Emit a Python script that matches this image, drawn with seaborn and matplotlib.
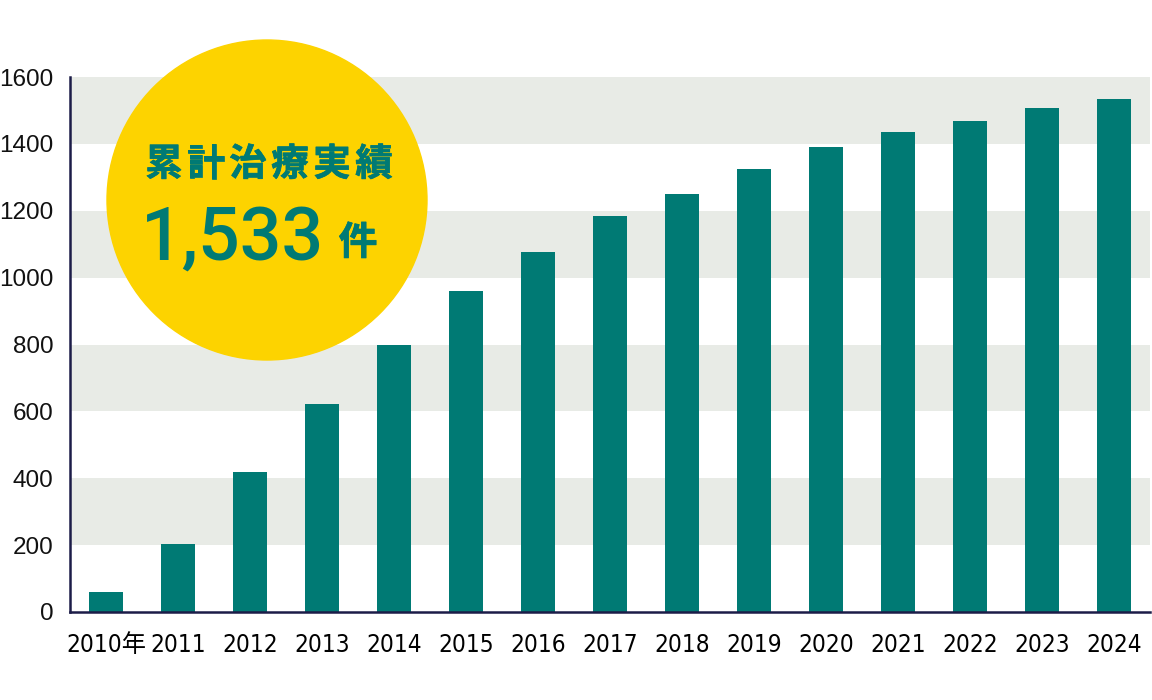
import matplotlib
matplotlib.use("Agg")
import matplotlib.pyplot as plt
import matplotlib.patheffects as pe
from matplotlib.patches import Ellipse
from matplotlib.ticker import FixedLocator
import seaborn as sns
import pandas as pd

# cumulative treatments per year
years = ["2010年", "2011", "2012", "2013", "2014", "2015", "2016", "2017",
         "2018", "2019", "2020", "2021", "2022", "2023", "2024"]
totals = [60, 203, 419, 622, 798, 960, 1077, 1185, 1250, 1324, 1392, 1435,
          1468, 1508, 1533]
y_ticks = [0, 200, 400, 600, 800, 1000, 1200, 1400, 1600]
badge_title = "累計治療実績"
badge_value = "1,533"
badge_unit = "件"

teal = "#007A74"
yellow = "#FDD300"
band = "#E8EBE6"
navy = "#1C1C48"

sns.set_theme(style="white")
plt.rcParams["font.family"] = ["Liberation Sans", "Noto Sans CJK JP", "DejaVu Sans"]

df = pd.DataFrame({"year": years, "total": totals})

W, H = 1152, 700
fig = plt.figure(figsize=(W / 100, H / 100), dpi=100)
ax = fig.add_axes([70 / W, (H - 612) / H, 1080 / W, 535 / H])

# alternating grey bands
for lo in y_ticks[1:-1:2]:
    ax.axhspan(lo, lo + 200, color=band, lw=0, zorder=0)

sns.barplot(data=df, x="year", y="total", order=years, color=teal,
            saturation=1, width=0.47, linewidth=0, ax=ax, zorder=2)

ax.set_xlim(-0.5, len(years) - 0.5)
ax.set_ylim(0, 1600)
ax.set_xlabel("")
ax.set_ylabel("")

for side in ["top", "right"]:
    ax.spines[side].set_visible(False)
for side in ["left", "bottom"]:
    ax.spines[side].set_color(navy)
    ax.spines[side].set_linewidth(1.8)

ax.set_yticks(y_ticks)
ax.set_yticklabels([str(v) for v in y_ticks])
ax.tick_params(axis="y", direction="in", length=6, width=1, color="#777777",
               labelsize=17.5, pad=12, labelcolor="#111111")

ax.tick_params(axis="x", which="major", length=0, pad=15)
ax.xaxis.set_minor_locator(FixedLocator([i + 0.5 for i in range(len(years))]))
ax.tick_params(axis="x", which="minor", direction="in", length=11, width=1.5,
               color=navy)
for lab in ax.get_xticklabels():
    lab.set_fontfamily(["DejaVu Sans", "Noto Sans CJK JP"])
    lab.set_fontstretch("condensed")
    lab.set_fontsize(17.5)
    lab.set_color("#000000")

# yellow badge
cx, cy, r = 267, 200, 160
fig.add_artist(Ellipse((cx / W, 1 - cy / H), 2 * r / W, 2 * r / H,
                       transform=fig.transFigure, color=yellow, zorder=5))
thick = [pe.withStroke(linewidth=0.5, foreground=teal)]
# title letters spaced out like the original
pitch = 42
for i, ch in enumerate(badge_title):
    x = 269 + (i - (len(badge_title) - 1) / 2) * pitch
    fig.text(x / W, 1 - 164 / H, ch, color=teal, fontsize=27,
             fontweight="bold", family=["Noto Sans CJK JP"], ha="center",
             va="center", zorder=6, path_effects=thick)
fig.text(141 / W, 1 - 239 / H, badge_value, color=teal, fontsize=53,
         fontweight="medium", family=["Roboto"], ha="left",
         va="center", zorder=6)
fig.text(358 / W, 1 - 243 / H, badge_unit, color=teal, fontsize=28,
         fontweight="bold", family=["Noto Sans CJK JP"], ha="center",
         va="center", zorder=6, path_effects=thick)

fig.savefig("out.png", dpi=100)
